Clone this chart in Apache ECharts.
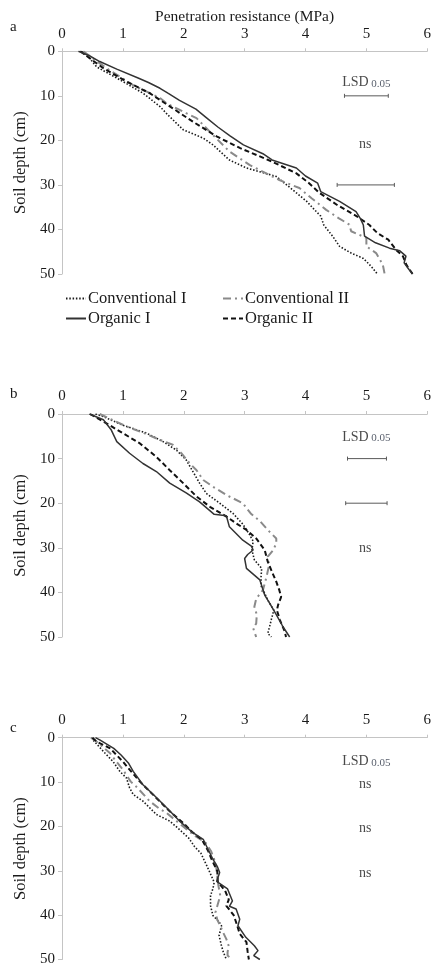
<!DOCTYPE html>
<html>
<head>
<meta charset="utf-8">
<script src="https://cdn.jsdelivr.net/npm/echarts@6/dist/echarts.min.js"></script>
<style>
  html, body { margin: 0; padding: 0; background: #fff; }
  #chart { width: 434px; height: 967px; }
</style>
</head>
<body>
<div id="chart"></div>
<script>
// ---- data: [penetration resistance (MPa), soil depth (cm)] ----
const treatments = ['Conventional I', 'Conventional II', 'Organic I', 'Organic II'];
const panelLetters = ['a', 'b', 'c'];
const resistanceRange = [0, 6, 1];
const depthRange = [0, 50, 10];

const aConvI = [[0.32,0],[0.45,1.5],[0.57,3.5],[0.95,6.4],[1.33,9.4],[1.61,12.4],[1.74,14.3],[1.99,17.6],[2.32,19.5],[2.48,21],[2.75,24.4],[3.03,26.2],[3.52,28.1],[3.79,31.1],[4.02,33.7],[4.15,35.6],[4.25,37],[4.30,39],[4.45,41.6],[4.56,43.8],[4.75,45.3],[4.95,46.5],[5.08,48.3],[5.18,50]];
const aConvII = [[0.35,0],[0.55,2],[0.73,3.8],[1.17,7.6],[1.61,10.5],[1.72,11.7],[2.04,13.9],[2.21,15],[2.48,18.8],[2.75,22.5],[3.08,25.5],[3.57,28.9],[3.90,30.7],[4.10,33],[4.34,35.6],[4.55,37.5],[4.72,38.9],[4.75,40.4],[5.0,41.9],[5.0,43.8],[5.16,45.3],[5.27,47.9],[5.30,50]];
const aOrgI = [[0.27,0],[0.45,1],[0.62,2.3],[0.9,4],[1.25,6],[1.42,7],[1.61,8.3],[1.74,9.4],[1.93,11],[2.20,13],[2.38,15],[2.56,17],[2.76,19],[2.98,21],[3.30,23],[3.45,24.4],[3.85,26.2],[4.0,28],[4.20,29.6],[4.25,31.5],[4.56,33.7],[4.83,36],[4.90,37.5],[4.95,39],[4.97,41.5],[5.15,43],[5.38,44.2],[5.55,44.8],[5.65,46],[5.62,47.5],[5.70,49],[5.76,50]];
const aOrgII = [[0.30,0],[0.5,2],[0.68,3.8],[1.06,6.8],[1.44,9.4],[1.82,12.8],[2.15,15.8],[2.54,19.1],[2.92,21.7],[3.25,23.6],[3.44,24.7],[3.85,27.4],[4.05,29.5],[4.23,31.8],[4.52,34.5],[4.85,37.1],[5.05,39],[5.18,40.8],[5.36,42.3],[5.49,44.6],[5.60,46],[5.66,48],[5.76,50]];

const bConvI = [[0.55,0],[0.68,0.6],[1.0,2.5],[1.39,4.3],[1.66,6.2],[1.88,8.1],[2.04,10.3],[2.15,12.9],[2.26,15.5],[2.37,17.8],[2.59,20],[2.81,22.3],[2.97,24.7],[3.07,26.8],[3.14,28.5],[3.12,30.5],[3.16,32.7],[3.28,34.6],[3.27,36.5],[3.27,38.5],[3.38,41.7],[3.48,44],[3.44,46],[3.41,47.7],[3.38,49.2],[3.44,50]];
const bConvII = [[0.62,0],[1.06,2.8],[1.35,4.3],[1.61,5.8],[1.82,6.9],[1.96,8.8],[2.10,11.1],[2.21,12.6],[2.32,14.8],[2.48,16.3],[2.72,18.3],[2.97,20],[3.10,22.3],[3.25,24],[3.38,26],[3.52,27.9],[3.52,29],[3.47,30.5],[3.38,32],[3.40,34],[3.36,36.5],[3.30,39.5],[3.19,41.4],[3.16,43.2],[3.20,45],[3.19,47],[3.14,48],[3.19,50]];
const bOrgI = [[0.45,0],[0.68,1.3],[0.81,3.6],[0.90,6.2],[1.11,8.8],[1.33,11.1],[1.55,12.9],[1.77,15.5],[2.04,17.7],[2.26,19.7],[2.50,22.5],[2.70,22.8],[2.75,25.3],[2.86,26.8],[2.97,28.3],[3.11,29.6],[3.14,30.5],[3.05,31.5],[3.0,32.4],[3.03,34.6],[3.25,37.2],[3.33,40.6],[3.41,42.4],[3.52,45],[3.63,47.7],[3.74,50]];
const bOrgII = [[0.46,0],[0.73,2.1],[1.0,4.3],[1.28,6.6],[1.55,9.6],[1.77,12.6],[1.99,15.5],[2.21,18.5],[2.43,20.8],[2.70,23],[2.86,24.5],[3.03,26],[3.19,27.9],[3.33,30.5],[3.38,33.1],[3.45,35.4],[3.52,37.6],[3.57,39.5],[3.60,41],[3.55,42.8],[3.53,44],[3.58,46.2],[3.66,48.8],[3.68,50]];

const cConvI = [[0.48,0],[0.51,0.5],[0.68,3.1],[0.84,5.4],[0.95,7.6],[1.06,9.1],[1.11,11.3],[1.17,12.8],[1.33,14.3],[1.44,15.8],[1.55,17.3],[1.77,18.8],[1.93,20.7],[2.08,22.6],[2.18,24.6],[2.28,26],[2.38,28.9],[2.43,30.4],[2.50,32.6],[2.48,34],[2.44,35.6],[2.44,37.9],[2.48,40.1],[2.58,41.5],[2.62,42.4],[2.58,44.6],[2.62,46.9],[2.65,48.3],[2.70,50]];
const cConvII = [[0.48,0],[0.57,0.9],[0.79,3.5],[0.87,5],[1.0,7.2],[1.13,9.9],[1.24,11.3],[1.44,14.3],[1.60,16],[1.72,17],[1.90,19],[2.15,21.8],[2.36,23.7],[2.45,25.6],[2.50,27.4],[2.53,28.9],[2.55,31],[2.57,33.4],[2.60,35.6],[2.56,37.5],[2.52,39.4],[2.55,41],[2.60,42.4],[2.65,44],[2.70,45.4],[2.74,47],[2.72,48.3],[2.72,49.1],[2.79,50]];
const cOrgI = [[0.55,0],[0.62,0.5],[0.85,2.4],[0.97,3.9],[1.09,5.7],[1.17,7.6],[1.33,10.6],[1.50,12.8],[1.72,15.8],[1.93,18.8],[2.15,21.4],[2.32,22.9],[2.40,25.2],[2.48,27.4],[2.55,29],[2.59,30.4],[2.54,32.4],[2.72,34.1],[2.80,36.8],[2.75,38],[2.86,38.6],[2.92,40.9],[2.89,42.4],[3.02,45],[3.16,46.9],[3.22,48],[3.15,49.1],[3.25,50]];
const cOrgII = [[0.50,0],[0.57,0.9],[0.79,2.4],[1.0,5.4],[1.11,7.2],[1.28,9.9],[1.55,13.6],[1.77,16.6],[1.99,19.2],[2.15,21.4],[2.30,23],[2.40,25.5],[2.46,27.5],[2.55,30],[2.56,32.5],[2.68,34.5],[2.74,36.5],[2.70,37.9],[2.82,40],[2.86,41.6],[2.92,44.2],[3.03,46.1],[3.05,48.3],[3.07,50]];

// LSD bars: [from, to, depth]
const aLsdBars = [[4.64,5.36,10],[4.52,5.46,30]];
const bLsdBars = [[4.69,5.33,10],[4.66,5.34,20]];
const cLsdBars = [];
// text notes: [x, depth, text]
const aNotes = [[5.0,6.7,'LSD'],[4.98,20.6,'ns']];
const bNotes = [[5.0,4.9,'LSD'],[4.98,30,'ns']];
const cNotes = [[5.0,5.2,'LSD'],[4.98,10.2,'ns'],[4.98,20.2,'ns'],[4.98,30.3,'ns']];

const panelData = [
  [aConvI, aConvII, aOrgI, aOrgII],
  [bConvI, bConvII, bOrgI, bOrgII],
  [cConvI, cConvII, cOrgI, cOrgII]
];
const panelBars = [aLsdBars, bLsdBars, cLsdBars];
const panelNotes = [aNotes, bNotes, cNotes];

// ---- styling ----
const FONT = '"Liberation Serif", "DejaVu Serif", serif';
const TEXT = '#1a1a1a';
const AXIS = '#c4c4c4';
const lineStyles = [
  { color: '#1a1a1a', width: 1.6, type: [1.5, 1.8] },
  { color: '#8a8a8a', width: 2, type: [8, 4, 2, 4] },
  { color: '#333333', width: 1.5, type: 'solid' },
  { color: '#111111', width: 2, type: [5, 3] }
];
const gridTops = [51.3, 414, 737.7];
const gridHeights = [222.7, 223, 223.3];
const letterTops = [20, 387, 721];

const grids = [], xAxes = [], yAxes = [], series = [];
gridTops.forEach((top, i) => {
  grids.push({ left: 62, width: 366, top: top, height: gridHeights[i] });
  xAxes.push({
    type: 'value', gridIndex: i, position: 'top',
    min: resistanceRange[0], max: resistanceRange[1], interval: resistanceRange[2],
    name: i === 0 ? 'Penetration resistance (MPa)' : '',
    nameLocation: 'middle', nameGap: 26,
    nameTextStyle: { fontFamily: FONT, fontSize: 15.5, color: TEXT },
    axisLine: { show: true, lineStyle: { color: AXIS, width: 1 } },
    axisTick: { show: true, length: 3, lineStyle: { color: AXIS } },
    axisLabel: { fontFamily: FONT, fontSize: 15, color: TEXT, margin: 10 },
    splitLine: { show: false }
  });
  yAxes.push({
    type: 'value', gridIndex: i, inverse: true,
    min: depthRange[0], max: depthRange[1], interval: depthRange[2],
    name: 'Soil depth (cm)', nameLocation: 'middle', nameGap: 28,
    nameTextStyle: { fontFamily: FONT, fontSize: 16.5, color: TEXT },
    axisLine: { show: true, lineStyle: { color: AXIS, width: 1 } },
    axisTick: { show: true, length: 4, lineStyle: { color: AXIS } },
    axisLabel: { fontFamily: FONT, fontSize: 15, color: TEXT, margin: 7 },
    splitLine: { show: false }
  });
  panelData[i].forEach((data, k) => {
    series.push({
      type: 'line', name: treatments[k], xAxisIndex: i, yAxisIndex: i,
      data: data, symbol: 'none', smooth: false,
      lineStyle: lineStyles[k], itemStyle: { color: lineStyles[k].color },
      z: k === 2 ? 4 : 3
    });
  });
  series.push({
    type: 'custom', xAxisIndex: i, yAxisIndex: i, data: panelBars[i],
    encode: { x: [0, 1], y: 2 }, silent: true,
    renderItem: (params, api) => {
      const p1 = api.coord([api.value(0), api.value(2)]);
      const p2 = api.coord([api.value(1), api.value(2)]);
      const st = { stroke: '#5a5a5a', lineWidth: 1 };
      return { type: 'group', children: [
        { type: 'line', shape: { x1: p1[0], y1: p1[1], x2: p2[0], y2: p2[1] }, style: st },
        { type: 'line', shape: { x1: p1[0], y1: p1[1] - 2, x2: p1[0], y2: p1[1] + 2 }, style: st },
        { type: 'line', shape: { x1: p2[0], y1: p2[1] - 2, x2: p2[0], y2: p2[1] + 2 }, style: st }
      ] };
    }
  });
  series.push({
    type: 'scatter', xAxisIndex: i, yAxisIndex: i, data: panelNotes[i],
    symbolSize: 1, itemStyle: { color: 'rgba(0,0,0,0)' }, silent: true,
    label: {
      show: true, position: 'inside',
      formatter: p => p.value[2] === 'LSD' ? '{a|LSD}{b| 0.05}' : '{a|' + p.value[2] + '}',
      rich: {
        a: { fontFamily: FONT, fontSize: 14, color: TEXT, verticalAlign: 'bottom', lineHeight: 16 },
        b: { fontFamily: FONT, fontSize: 11, color: '#2d3646', verticalAlign: 'bottom', lineHeight: 14 }
      }
    }
  });
});

const legendBase = {
  itemWidth: 20, itemHeight: 12, itemGap: 0, selectedMode: false,
  itemStyle: { opacity: 0 },
  textStyle: { fontFamily: FONT, fontSize: 16.5, color: TEXT, padding: [0, 0, 0, -3] }
};
const legends = [
  Object.assign({ data: [treatments[0]], left: 60, top: 285 }, legendBase),
  Object.assign({ data: [treatments[1]], left: 217, top: 285 }, legendBase),
  Object.assign({ data: [treatments[2]], left: 60, top: 305 }, legendBase),
  Object.assign({ data: [treatments[3]], left: 217, top: 305 }, legendBase)
];

const chart = echarts.init(document.getElementById('chart'), null, { renderer: 'canvas' });
chart.setOption({
  animation: false,
  backgroundColor: '#fff',
  grid: grids, xAxis: xAxes, yAxis: yAxes, series: series,
  legend: legends,
  graphic: panelLetters.map((t, i) => ({
    type: 'text', left: 10, top: letterTops[i],
    style: { text: t, font: '15px ' + FONT, fill: TEXT }
  }))
});
</script>
</body>
</html>
